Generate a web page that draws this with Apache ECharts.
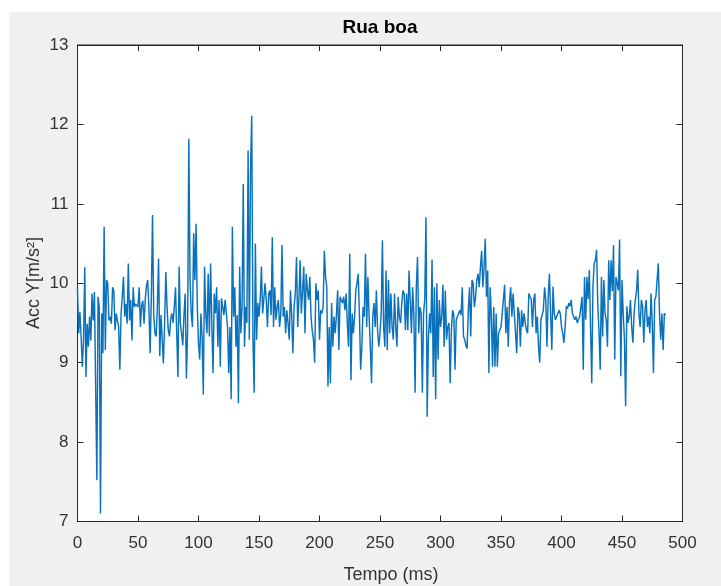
<!DOCTYPE html>
<html>
<head>
<meta charset="utf-8">
<title>Rua boa</title>
<script src="https://cdn.jsdelivr.net/npm/echarts@6/dist/echarts.min.js"></script>
<style>
  html, body { margin: 0; padding: 0; background: #ffffff; }
  #panel { position: absolute; left: 9px; top: 12px; width: 712px; height: 574px; background: #f0f0f0; }
  #chart { position: absolute; left: 0; top: 0; width: 721px; height: 586px; }
</style>
</head>
<body>
<div id="panel"></div>
<div id="chart"></div>
<script>
// Vertical acceleration samples (m/s²), one per millisecond, split by time range
const accY_0_52 = [
  9.93, 9.37, 9.64, 9.32, 8.95, 9.28, 10.20, 8.82, 9.49, 9.20,
  9.58, 9.28, 9.87, 9.53, 9.89, 9.91, 7.52, 9.83, 9.70, 7.10,
  9.62, 9.12, 10.71, 9.16, 10.04, 10.00, 9.53, 9.58, 9.49, 9.95,
  9.91, 9.41, 9.62, 9.53, 9.45, 8.91, 9.62, 9.83, 10.08, 9.58,
  9.74, 9.49, 10.25, 9.53, 9.79, 9.28, 9.95, 9.70, 9.74, 9.76,
  9.70, 9.95, 9.45
];
const accY_53_91 = [
  9.72, 9.78, 9.49, 9.80, 9.97, 10.04, 9.70, 9.12, 9.80, 10.86,
  9.60, 9.37, 9.33, 9.70, 10.31, 9.08, 9.60,
  9.62, 8.99, 9.50, 10.14, 9.70, 9.41, 9.33, 9.55, 9.62, 9.50,
  9.70, 9.95, 9.37, 8.82, 10.21, 9.50, 9.37, 9.22, 9.60, 9.87,
  8.80, 9.40
];
const accY_92_191 = [
  11.82, 10.04, 9.62, 9.45, 10.63, 10.04, 10.75, 9.70,
  9.24, 9.04, 9.62, 9.30, 8.60, 10.21, 9.60, 9.37, 10.12, 9.33,
  10.25, 9.50, 8.87, 9.87, 9.62, 9.95, 9.20, 9.79, 8.95, 9.81,
  9.70, 9.60, 9.79, 9.62, 9.45, 8.87, 9.45, 8.54, 10.71, 9.58,
  9.95, 9.20, 9.60, 8.49, 10.21, 9.37, 9.70, 11.25, 9.20, 9.70,
  9.50, 11.67, 9.29, 11.45, 12.11, 9.29, 8.62, 10.50, 9.29, 9.75,
  9.58, 9.79, 10.21, 9.62, 9.80, 10.00, 9.79, 9.45, 9.87, 9.91,
  9.60, 10.58, 9.45, 9.95, 9.54, 9.70, 9.79, 9.45, 9.60, 10.48,
  9.58, 9.70, 9.37, 9.66, 9.50, 9.29, 9.91, 9.60, 9.12, 9.70,
  9.87, 10.33, 9.45, 9.80, 10.29, 9.62, 9.90, 10.21, 9.37, 10.12,
  9.91, 9.79
];
const accY_192_291 = [
  10.08, 9.58, 9.40, 9.29, 9.00, 10.00, 9.79, 9.91,
  9.29, 9.66, 9.62, 9.70, 10.41, 10.08, 9.95, 8.70, 9.45, 8.74,
  9.75, 9.20, 9.58, 9.37, 9.60, 9.91, 9.16, 9.83, 9.79, 9.75,
  9.83, 9.66, 9.87, 9.50, 9.20, 10.37, 8.78, 9.62, 9.37, 9.58,
  9.91, 10.00, 10.12, 9.60, 8.91, 9.20, 9.70, 9.58, 10.37, 9.45,
  10.08, 9.58, 9.20, 8.74, 9.58, 9.75, 9.45, 9.91, 9.41, 9.20,
  9.37, 9.62, 10.54, 9.45, 9.20, 10.16, 9.16, 10.04, 9.37, 9.87,
  9.45, 9.29, 9.87, 9.45, 9.20, 9.83, 9.58, 9.50, 9.75, 9.91,
  9.87, 9.41, 9.87, 9.41, 10.16, 9.79, 9.37, 9.95, 9.60, 8.62,
  9.95, 10.33, 9.37, 9.70, 9.62, 8.62, 9.62, 9.80, 10.83, 8.32,
  9.29, 9.62
];
const accY_292_390 = [
  9.37, 10.30, 8.82, 9.95, 8.54, 10.00, 9.04, 9.79,
  9.45, 9.58, 9.98, 9.20, 9.91, 9.29, 9.45, 9.50, 8.74, 9.41,
  9.66, 9.60, 8.91, 9.54, 9.58, 9.62, 9.66, 9.60, 9.95, 9.33,
  9.29, 9.22, 9.18, 9.66, 9.95, 9.33, 10.04, 10.00, 9.70, 9.83,
  10.04, 10.12, 9.95, 10.20, 10.41, 9.95, 10.20, 10.56, 9.83, 10.16,
  8.87, 9.95, 9.60, 8.95, 9.70, 8.95, 9.62, 8.95, 9.37, 9.41,
  9.45, 9.62, 9.62, 9.98, 9.37, 9.70, 9.20, 9.75, 9.95, 9.58,
  9.87, 9.62, 9.37, 9.12, 9.70, 9.62, 9.20, 9.66, 9.45, 9.62,
  9.50, 9.41, 9.37, 9.87, 9.83, 9.80, 9.45, 9.79, 9.87, 9.37,
  9.58, 9.20, 9.00, 9.54, 9.60, 9.66, 9.95, 9.79, 9.20, 9.83,
  10.12
];
const accY_391_486 = [
  9.62, 9.16, 9.96, 9.62, 9.54, 9.58, 9.62, 9.66, 9.62,
  9.45, 9.37, 9.25, 9.45, 9.71, 9.68, 9.75, 9.71, 9.79, 9.62,
  9.58, 9.54, 9.58, 9.50, 9.54, 9.58, 9.70, 9.83, 8.91, 10.08,
  9.54, 10.08, 9.80, 10.17, 9.45, 8.74, 9.96, 10.25, 10.29, 10.42,
  9.71, 9.40, 8.91, 10.08, 9.33, 10.04, 9.62, 9.54, 9.20, 10.29,
  9.79, 10.29, 9.90, 10.48, 9.04, 10.08, 10.00, 9.91, 10.55, 8.83,
  10.04, 9.62, 9.30, 8.45, 9.71, 9.50, 9.58, 9.79, 9.45, 9.25,
  9.62, 9.79, 9.90, 10.17, 9.62, 9.45, 9.79, 9.71, 9.25, 9.66,
  9.79, 9.45, 9.58, 9.37, 9.87, 9.50, 8.87, 9.79, 9.83, 9.83,
  10.25, 9.62, 9.29, 9.62, 9.16, 9.62, 9.60
];

const accY = [].concat(accY_0_52, accY_53_91, accY_92_191, accY_192_291, accY_292_390, accY_391_486);

// Axis ranges and tick spacing
const xRange = [0, 500];
const xStep = 50;
const yRange = [7, 13];
const yStep = 1;

const titleText = 'Rua boa';
const xTitle = 'Tempo (ms)';
const yTitle = 'Acc Y[m/s²]';

const axisColor = '#262626';
const fontFamily = '"Liberation Sans", Arial, Helvetica, sans-serif';

const points = accY.map((v, i) => [i, v]);

const chart = echarts.init(document.getElementById('chart'), null, { renderer: 'canvas' });

const baseX = {
  type: 'value', min: xRange[0], max: xRange[1], interval: xStep,
  axisLine: { show: true, onZero: false, lineStyle: { color: axisColor, width: 1 } },
  axisTick: { show: true, inside: true, length: 6, lineStyle: { color: axisColor, width: 1 } },
  splitLine: { show: false }
};
const baseY = {
  type: 'value', min: yRange[0], max: yRange[1], interval: yStep,
  axisLine: { show: true, onZero: false, lineStyle: { color: axisColor, width: 1 } },
  axisTick: { show: true, inside: true, length: 6, lineStyle: { color: axisColor, width: 1 } },
  splitLine: { show: false }
};

chart.setOption({
  animation: false,
  backgroundColor: 'transparent',
  textStyle: { fontFamily: fontFamily },
  grid: {
    left: 77.5, right: 38.5, top: 45, bottom: 64.5,
    show: true, backgroundColor: '#ffffff', borderColor: axisColor, borderWidth: 1,
    containLabel: false
  },
  xAxis: [
    Object.assign({}, baseX, {
      position: 'bottom',
      axisLabel: { show: true, margin: 13, color: '#333333', fontSize: 17, fontFamily: fontFamily }
    }),
    Object.assign({}, baseX, { position: 'top', axisLabel: { show: false } })
  ],
  yAxis: [
    Object.assign({}, baseY, {
      position: 'left',
      axisLabel: { show: true, margin: 9, color: '#333333', fontSize: 17, fontFamily: fontFamily }
    }),
    Object.assign({}, baseY, { position: 'right', axisLabel: { show: false } })
  ],
  series: [{
    type: 'line',
    xAxisIndex: 0,
    yAxisIndex: 0,
    data: points,
    showSymbol: false,
    symbol: 'none',
    lineStyle: { color: '#0A72BC', width: 1.45 },
    z: 3
  }],
  graphic: [
    {
      type: 'text', x: 380, y: 28, z: 10,
      style: { text: titleText, fill: '#000000', font: 'bold 19px ' + fontFamily, textAlign: 'center', textVerticalAlign: 'middle' }
    },
    {
      type: 'text', x: 391, y: 575, z: 10,
      style: { text: xTitle, fill: '#333333', font: '18px ' + fontFamily, textAlign: 'center', textVerticalAlign: 'middle' }
    },
    {
      type: 'text', x: 34, y: 283, rotation: Math.PI / 2, z: 10,
      style: { text: yTitle, fill: '#333333', font: '18px ' + fontFamily, textAlign: 'center', textVerticalAlign: 'middle' }
    }
  ]
});
</script>
</body>
</html>
